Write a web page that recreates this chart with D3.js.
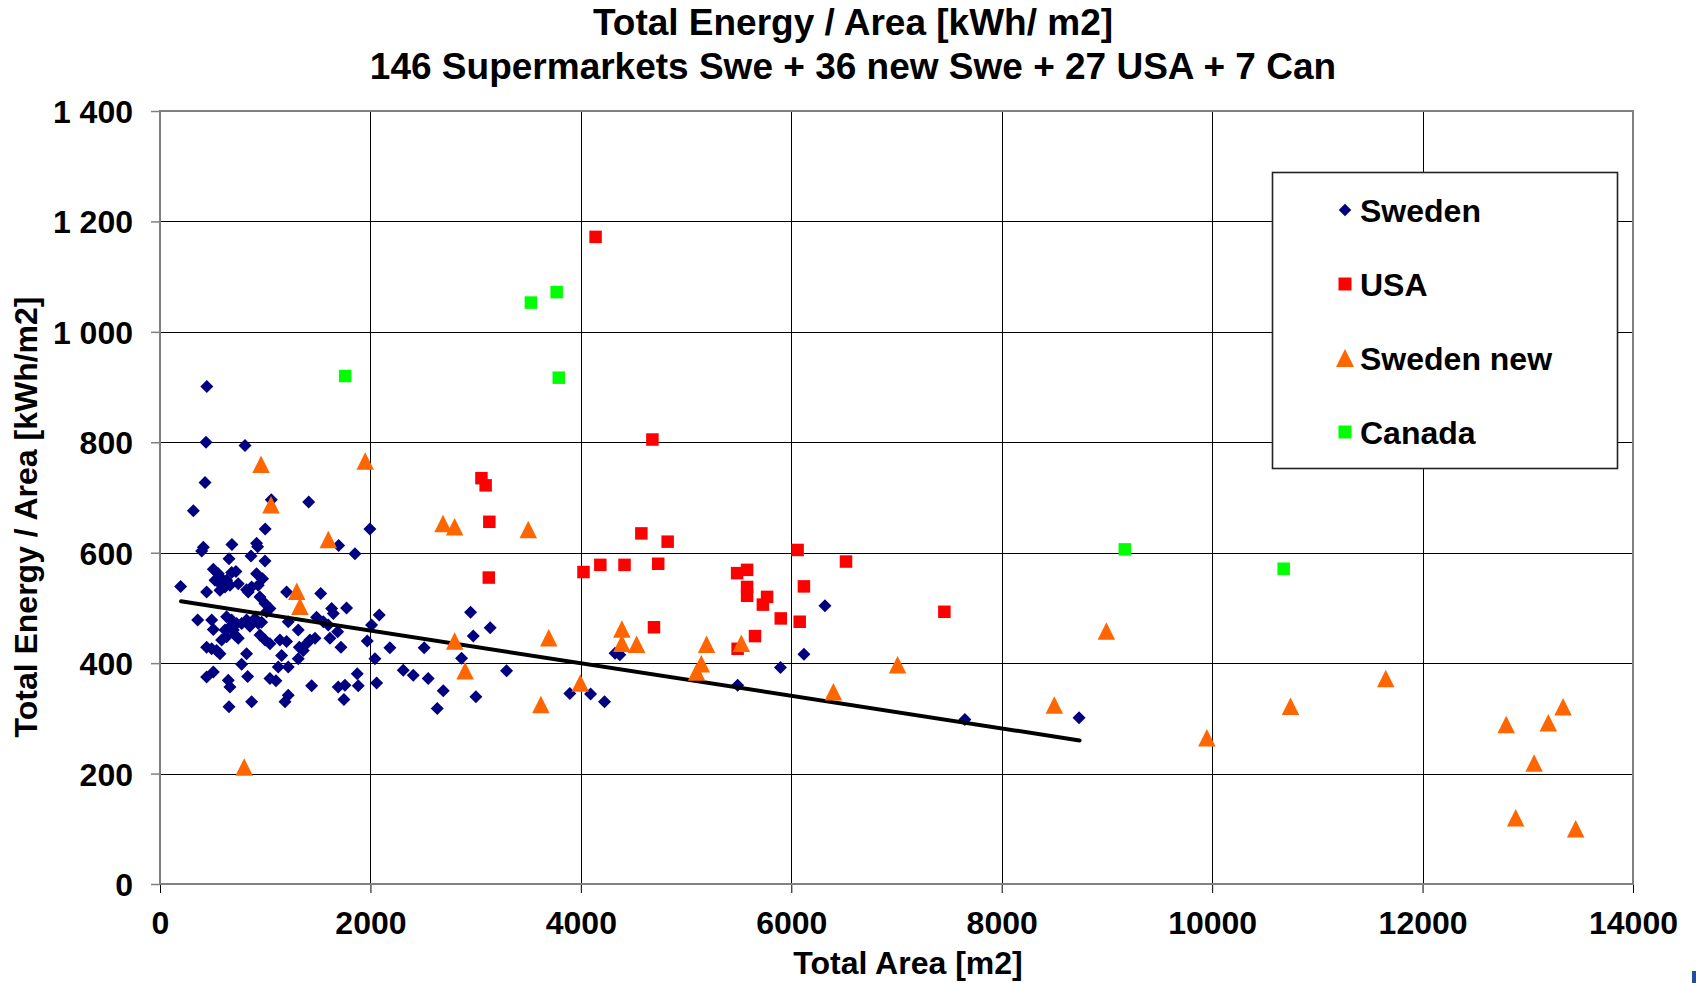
<!DOCTYPE html>
<html>
<head>
<meta charset="utf-8">
<script src="https://cdn.jsdelivr.net/npm/d3@7"></script>
<style>
  html, body { margin: 0; padding: 0; background: #fff; }
  svg { display: block; font-family: "Liberation Sans", Arial, sans-serif; font-weight: bold; }
</style>
</head>
<body>
<svg id="chart" width="1696" height="983"></svg>
<script>
// ---- data ----
const titleLines = ["Total Energy / Area [kWh/ m2]", "146 Supermarkets Swe + 36 new Swe + 27 USA + 7 Can"];
const xTitle = "Total Area [m2]";
const yTitle = "Total Energy / Area [kWh/m2]";
const xTicks = [0, 2000, 4000, 6000, 8000, 10000, 12000, 14000];
const yTicks = [0, 200, 400, 600, 800, 1000, 1200, 1400];
const seriesNames = ["Sweden", "USA", "Sweden new", "Canada"];

const swedenX = [445,437,808,428,1058,1413,317,1000,1995,412,396,684,918,928,1698,1853,656,865,998,507,
  554,570,633,681,722,744,665,618,570,570,523,918,975,934,871,839,823,196,443,1203,
  1527,950,998,1045,1013,1631,1647,1773,2084,358,491,507,633,681,665,728,776,618,697,823,
  855,903,934,966,1219,1314,1488,1552,1599,1688,2011,586,633,713,744,950,998,1045,1140,1203,
  1425,1473,1393,1615,1970,443,491,538,570,823,1324,1362,1720,2185,2511,1156,1314,2043,776,1124,
  1219,443,507,833,649,665,1045,1102,1441,1694,1758,1884,1875,2059,2312,2407,2549,2692,2635,1219,
  1188,1748,871,656,2952,3138,2977,2866,3002,3294,3895,4092,4225,4325,4370,6320,6120,5897,5490,7650,8735];
const swedenY = [901,800,794,727,696,692,676,643,643,610,603,615,617,611,613,598,589,594,585,570,
  562,556,550,564,566,544,541,538,532,544,550,562,553,541,538,529,533,539,529,529,
  526,520,508,499,493,499,490,500,487,478,478,461,484,478,466,472,472,460,460,478,
  467,481,472,474,475,460,483,475,469,457,469,442,448,451,445,451,442,435,442,439,
  442,445,435,445,440,429,426,423,417,417,429,423,429,428,428,414,408,408,398,393,
  393,375,384,376,369,357,372,368,359,357,360,359,381,364,387,378,372,350,318,342,
  330,334,330,321,492,464,449,409,339,386,345,344,330,418,415,504,416,392,360,298,301];

const usaX = [4140,4680,3055,3095,3130,3125,4575,4825,4025,4185,4415,4735,4695,6060,6520,5485,5580,5580,5580,5770,5730,6120,5900,6080,5655,5490,7455];
const usaY = [1172,805,735,722,656,555,635,620,565,578,578,580,465,605,584,563,569,538,522,520,506,539,481,475,449,426,493];

const swedenNewX = [960,1950,1055,1600,1300,1330,2690,2800,3500,2800,2900,3695,3620,3995,4390,4390,4530,5195,5145,5100,5525,6400,7010,8500,8995,9950,10745,11650,12795,13195,13335,13060,12885,13455,800];
const swedenNewY = [760,766,687,624,530,503,653,647,642,440,386,446,325,364,462,436,434,434,399,384,436,348,397,324,458,265,322,372,289,292,321,219,120,100,212];

const canadaX = [1760,3525,3770,3790,9170,10680];
const canadaY = [920,1053,1072,917,606,571];

const trendX = [200, 8740];
const trendY = [512, 260];

// ---- layout ----
const svg = d3.select("#chart");
const x = d3.scaleLinear().domain([0, 14000]).range([160, 1633]);
const y = d3.scaleLinear().domain([0, 1400]).range([884, 111]);

const yFmt = v => v >= 1000 ? Math.floor(v / 1000) + "\u00a0" + String(v % 1000).padStart(3, "0") : String(v);

// grid
const grid = svg.append("g");
grid.selectAll("line.gx").data(xTicks.slice(1, -1)).join("line")
  .attr("x1", d => Math.round(x(d)) + 0.5).attr("x2", d => Math.round(x(d)) + 0.5)
  .attr("y1", y(1400)).attr("y2", y(0)).attr("stroke", "#000").attr("stroke-width", 1);
grid.selectAll("line.gy").data(yTicks.slice(1, -1)).join("line")
  .attr("y1", d => Math.round(y(d)) + 0.5).attr("y2", d => Math.round(y(d)) + 0.5)
  .attr("x1", x(0)).attr("x2", x(14000)).attr("stroke", "#000").attr("stroke-width", 1);

// axes
const xAxis = d3.axisBottom(x).tickValues(xTicks).tickSize(9).tickSizeOuter(0).tickPadding(12).tickFormat(d => String(d));
const gx = svg.append("g").attr("transform", `translate(0,${y(0)})`).call(xAxis);
gx.select(".domain").remove();
gx.selectAll(".tick line").attr("stroke", "#000").attr("stroke-width", 1);
gx.selectAll(".tick text").attr("font-size", 32).attr("font-family", "Liberation Sans, Arial, sans-serif")
  .attr("font-weight", "bold").attr("fill", "#000").attr("dy", null).attr("y", 50);

const yAxis = d3.axisLeft(y).tickValues(yTicks).tickSize(9).tickSizeOuter(0).tickPadding(18).tickFormat(yFmt);
const gy = svg.append("g").attr("transform", `translate(${x(0)},0)`).call(yAxis);
gy.select(".domain").remove();
gy.selectAll(".tick line").attr("stroke", "#808080").attr("stroke-width", 1.5);
gy.selectAll(".tick text").attr("font-size", 32).attr("font-family", "Liberation Sans, Arial, sans-serif")
  .attr("font-weight", "bold").attr("fill", "#000").attr("dy", "0.36em").attr("x", -27);

// plot border
svg.append("rect").attr("x", x(0)).attr("y", y(1400)).attr("width", x(14000) - x(0)).attr("height", y(0) - y(1400))
  .attr("fill", "none").attr("stroke", "#808080").attr("stroke-width", 2);

// marker shapes
const diamond = { draw(ctx, size) { const r = Math.sqrt(size) / 2; ctx.moveTo(0, -r); ctx.lineTo(r, 0); ctx.lineTo(0, r); ctx.lineTo(-r, 0); ctx.closePath(); } };
const square = { draw(ctx, size) { const h = Math.sqrt(size) / 2; ctx.rect(-h, -h, 2 * h, 2 * h); } };
const triangle = { draw(ctx, size) { const h = Math.sqrt(size) / 2; ctx.moveTo(0, -h); ctx.lineTo(h, h); ctx.lineTo(-h, h); ctx.closePath(); } };

const series = [
  { name: seriesNames[0], xs: swedenX, ys: swedenY, type: diamond, size: 13 * 13, color: "#000080" },
  { name: seriesNames[1], xs: usaX, ys: usaY, type: square, size: 12.5 * 12.5, color: "#FF0000" },
  { name: seriesNames[2], xs: swedenNewX, ys: swedenNewY, type: triangle, size: 17.5 * 17.5, color: "#FF6600" },
  { name: seriesNames[3], xs: canadaX, ys: canadaY, type: square, size: 12.5 * 12.5, color: "#00FF00" }
];

function drawSeries(s) {
  const pts = s.xs.map((v, i) => [v, s.ys[i]]);
  svg.append("g").selectAll("path").data(pts).join("path")
    .attr("transform", d => `translate(${x(d[0])},${y(d[1])})`)
    .attr("d", d3.symbol().type(s.type).size(s.size)())
    .attr("fill", s.color);
}

drawSeries(series[0]);
// trend line
svg.append("path")
  .attr("d", d3.line().x(d => x(d[0])).y(d => y(d[1]))(trendX.map((v, i) => [v, trendY[i]])))
  .attr("stroke", "#000").attr("stroke-width", 4).attr("fill", "none").attr("stroke-linecap", "round");
drawSeries(series[1]);
drawSeries(series[2]);
drawSeries(series[3]);

// legend
const lg = svg.append("g");
lg.append("rect").attr("x", 1272.5).attr("y", 172.5).attr("width", 345).attr("height", 296)
  .attr("fill", "#fff").attr("stroke", "#222").attr("stroke-width", 1.6);
const legendSizes = [12.5 * 12.5, 13 * 13, 18 * 18, 13 * 13];
series.forEach((s, i) => {
  const cy = 210 + i * 74;
  lg.append("path").attr("transform", `translate(1345,${cy})`)
    .attr("d", d3.symbol().type(s.type).size(legendSizes[i])()).attr("fill", s.color);
  lg.append("text").attr("x", 1360).attr("y", cy + 11.5).attr("font-size", 32).attr("fill", "#000").text(s.name);
});

// titles
svg.append("text").attr("x", 853).attr("y", 35).attr("text-anchor", "middle").attr("font-size", 37).text(titleLines[0]);
svg.append("text").attr("x", 853).attr("y", 79).attr("text-anchor", "middle").attr("font-size", 37).text(titleLines[1]);
svg.append("text").attr("x", 908).attr("y", 974).attr("text-anchor", "middle").attr("font-size", 32).text(xTitle);
svg.append("text").attr("transform", "translate(37,517) rotate(-90)").attr("text-anchor", "middle").attr("font-size", 32).text(yTitle);

// small corner mark
svg.append("rect").attr("x", 1692).attr("y", 971).attr("width", 4).attr("height", 12).attr("fill", "#2050a0");
</script>
</body>
</html>
